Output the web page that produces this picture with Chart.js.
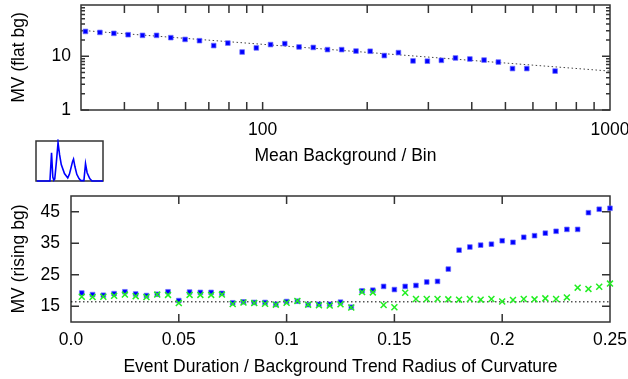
<!DOCTYPE html>
<html>
<head>
<meta charset="utf-8">
<script src="https://cdn.jsdelivr.net/npm/chart.js@4.4.0/dist/chart.umd.min.js"></script>
<style>
  html, body { margin: 0; padding: 0; background: #fff; }
  #wrap { position: relative; width: 628px; height: 379px; overflow: hidden; }
  .box { position: absolute; }
</style>
</head>
<body>
<div id="wrap">
  <div class="box" style="left:0;top:0;width:628px;height:167px"><canvas id="flat"></canvas></div>
  <div class="box" style="left:0;top:182px;width:628px;height:197px"><canvas id="rising"></canvas></div>
  <div class="box" style="left:34px;top:139px;width:71px;height:44px;z-index:2"><canvas id="inset"></canvas></div>
</div>
<script>
// top panel: MV vs mean background (log-log)
const meanBg = [30.9, 34.0, 37.3, 41.0, 45.1, 49.5, 54.4, 59.8, 65.8, 72.3, 79.4, 87.3, 95.9, 105.4, 115.8, 127.3, 139.9,
                153.7, 168.9, 185.7, 204, 224, 246, 271, 298, 327, 359, 395, 434, 477, 524, 576, 633, 695];
const mvFlat = [29.0, 27.8, 26.7, 25.2, 24.5, 24.5, 22.2, 20.6, 19.5, 15.8, 17.6, 12.0, 14.3, 16.5, 17.2, 14.9, 14.6,
                13.3, 13.3, 12.5, 12.4, 10.3, 11.7, 8.2, 8.1, 8.4, 9.3, 8.9, 8.5, 7.8, 5.9, 5.9, null, 5.3];
const fitX = [30, 1000];
const fitY = [30.4, 5.3];

const flatXTicks = [100, 1000];
const flatXLabels = ['100', '1000'];
const flatYTicks = [1, 10];
const flatYLabels = ['1', '10'];
const flatXMarks = [40, 50, 60, 70, 80, 90, 100, 200, 300, 400, 500, 600, 700, 800, 900];
const flatYMajor = [1, 10];
const flatYMinor = [2, 3, 4, 5, 6, 7, 8, 9, 20, 30, 40, 50, 60, 70, 80];

// bottom panel: MV vs event duration / radius of curvature
const duration = [0.005, 0.01, 0.015, 0.02, 0.025, 0.03, 0.035, 0.04, 0.045, 0.05,
                  0.055, 0.06, 0.065, 0.07, 0.075, 0.08, 0.085, 0.09, 0.095, 0.1,
                  0.105, 0.11, 0.115, 0.12, 0.125, 0.13, 0.135, 0.14, 0.145, 0.15,
                  0.155, 0.16, 0.165, 0.17, 0.175, 0.18, 0.185, 0.19, 0.195, 0.2,
                  0.205, 0.21, 0.215, 0.22, 0.225, 0.23, 0.235, 0.24, 0.245, 0.25];
const mvBlue = [19.2, 18.7, 18.5, 19.0, 19.6, 18.9, 18.4, 18.8, 19.6, 16.8,
                19.5, 19.4, 19.4, 19.1, 16.1, 16.4, 16.2, 16.2, 15.6, 16.5,
                16.6, 15.5, 15.6, 15.6, 16.3, 14.7, 19.9, 20.1, 21.3, 20.3,
                21.3, 21.6, 22.7, 22.9, 26.8, 32.8, 33.8, 34.4, 34.7, 35.8,
                35.3, 36.9, 37.4, 38.2, 38.8, 39.4, 39.4, 44.7, 45.8, 46.1];
const mvGreen = [18.0, 17.9, 18.0, 18.3, 18.7, 18.2, 17.9, 18.7, 18.6, 16.0,
                 18.6, 18.6, 18.6, 18.7, 15.7, 16.2, 16.0, 15.8, 15.5, 16.1,
                 16.7, 15.5, 15.3, 15.2, 15.6, 14.6, 19.5, 19.4, 15.4, 14.7,
                 19.3, 17.3, 17.3, 17.3, 17.2, 17.1, 17.3, 17.1, 17.3, 16.5,
                 17.0, 17.3, 17.2, 17.5, 17.3, 17.8, 20.9, 20.5, 21.2, 22.2];
const refX = [0, 0.25];
const refY = [16.4, 16.4];

const risingXTicks = [0, 0.05, 0.1, 0.15, 0.2, 0.25];
const risingXLabels = ['0.0', '0.05', '0.1', '0.15', '0.2', '0.25'];
const risingYTicks = [15, 25, 35, 45];
const risingXMarks = [0.05, 0.1, 0.15, 0.2];

// inset thumbnail light curve
const insetX = [1, 20.8, 23.2, 25.1, 26.6, 28, 30.5, 32.9, 35.2, 37.7, 42.5, 47.4, 49.8, 52.2, 54.6, 56, 58, 60.9,
                64.2, 67, 71.5, 73.9, 76.3, 80.2, 83.6, 100];
const insetY = [0, 0, 0.72, 0.1, 0.02, 0.05, 0.5, 0.975, 0.67, 0.42, 0.19, 0.08, 0.17, 0.33, 0.5, 0.56, 0.375, 0.17,
                0.06, 0.01, 0.01, 0.44, 0.21, 0.06, 0, 0];

const pts = (xs, ys) => xs.map((x, i) => ({x: x, y: ys[i]}));

Chart.defaults.font.family = '"Liberation Sans", Arial, sans-serif';
Chart.defaults.font.size = 17.5;
Chart.defaults.color = '#000';

// fixed axis box size, no extra padding for overhanging labels
const fixX = h => s => { s.height = h; s.paddingLeft = 0; s.paddingRight = 0; };
const fixY = w => s => { s.width = w; s.paddingTop = 0; s.paddingBottom = 0; };

// frame + inward tick marks, drawn from the chart's scales
const boxTicks = {
  id: 'boxTicks',
  beforeDatasetsDraw(chart, args, opts) {
    const {ctx, chartArea: a, scales} = chart;
    ctx.save();
    ctx.strokeStyle = '#333';
    ctx.lineWidth = 1.5;
    ctx.beginPath();
    (opts.x || []).forEach(m => m.values.forEach(v => {
      const p = scales.x.getPixelForValue(v);
      ctx.moveTo(p, a.bottom); ctx.lineTo(p, a.bottom - m.len);
      ctx.moveTo(p, a.top); ctx.lineTo(p, a.top + m.len);
    }));
    (opts.y || []).forEach(m => m.values.forEach(v => {
      const p = scales.y.getPixelForValue(v);
      ctx.moveTo(a.left, p); ctx.lineTo(a.left + m.len, p);
      ctx.moveTo(a.right, p); ctx.lineTo(a.right - m.len, p);
    }));
    ctx.stroke();
    ctx.strokeRect(a.left, a.top, a.right - a.left, a.bottom - a.top);
    ctx.restore();
  }
};

const blueSquares = {
  pointStyle: 'rect', pointRadius: 3.3, pointHoverRadius: 3.3,
  backgroundColor: '#0000ff', borderColor: 'rgba(110,110,255,0.7)', borderWidth: 1, clip: false
};

new Chart(document.getElementById('flat'), {
  type: 'scatter',
  data: {
    datasets: [
      Object.assign({data: pts(meanBg, mvFlat), order: 1}, blueSquares),
      {data: pts(fitX, fitY), showLine: true, pointRadius: 0, borderColor: '#444', borderWidth: 1,
       borderDash: [1.5, 2.5], order: 2}
    ]
  },
  options: {
    responsive: true, maintainAspectRatio: false, animation: false,
    layout: {padding: {top: 5, right: 18, left: 0, bottom: 0}},
    plugins: {
      legend: {display: false}, tooltip: {enabled: false},
      boxTicks: {
        x: [{values: flatXMarks, len: 8}],
        y: [{values: flatYMajor, len: 8}, {values: flatYMinor, len: 4}]
      }
    },
    scales: {
      x: {
        type: 'logarithmic', min: 30, max: 1000,
        grid: {display: false, drawTicks: false}, border: {display: false},
        afterBuildTicks: s => { s.ticks = flatXTicks.map(v => ({value: v})); },
        afterFit: fixX(57),
        ticks: {padding: 10, autoSkip: false, maxRotation: 0, callback: (v, i) => flatXLabels[i]},
        title: {display: true, text: 'Mean Background / Bin', padding: {top: 0, bottom: 0.5}}
      },
      y: {
        type: 'logarithmic', min: 1, max: 90,
        grid: {display: false, drawTicks: false}, border: {display: false},
        afterBuildTicks: s => { s.ticks = flatYTicks.map(v => ({value: v})); },
        afterFit: fixY(81),
        ticks: {padding: 10, autoSkip: false, callback: (v, i) => flatYLabels[i]},
        title: {display: true, text: 'MV (flat bg)', padding: {top: 9, bottom: 0}}
      }
    }
  },
  plugins: [boxTicks]
});

new Chart(document.getElementById('rising'), {
  type: 'scatter',
  data: {
    datasets: [
      {data: pts(duration, mvGreen), pointStyle: 'crossRot', pointRadius: 4.2, pointHoverRadius: 4.2,
       borderColor: '#22ee22', borderWidth: 1.5, clip: false, order: 1},
      Object.assign({data: pts(duration, mvBlue), order: 2}, blueSquares),
      {data: pts(refX, refY), showLine: true, pointRadius: 0, borderColor: '#000', borderWidth: 1,
       borderDash: [1.5, 2.5], order: 3}
    ]
  },
  options: {
    responsive: true, maintainAspectRatio: false, animation: false,
    layout: {padding: {top: 14, right: 18, left: 0, bottom: 0}},
    plugins: {
      legend: {display: false}, tooltip: {enabled: false},
      boxTicks: {
        x: [{values: risingXMarks, len: 8}],
        y: [{values: risingYTicks, len: 8}]
      }
    },
    scales: {
      x: {
        type: 'linear', min: 0, max: 0.25,
        grid: {display: false, drawTicks: false}, border: {display: false},
        afterBuildTicks: s => { s.ticks = risingXTicks.map(v => ({value: v})); },
        afterFit: fixX(57),
        ticks: {padding: 7.5, autoSkip: false, maxRotation: 0, callback: (v, i) => risingXLabels[i]},
        title: {display: true, text: 'Event Duration / Background Trend Radius of Curvature', padding: {top: 0, bottom: 1.8}}
      },
      y: {
        type: 'linear', min: 10, max: 50,
        grid: {display: false, drawTicks: false}, border: {display: false},
        afterBuildTicks: s => { s.ticks = risingYTicks.map(v => ({value: v})); },
        afterFit: fixY(71),
        ticks: {padding: 11, autoSkip: false},
        title: {display: true, text: 'MV (rising bg)', padding: {top: 9, bottom: 0}}
      }
    }
  },
  plugins: [boxTicks]
});

new Chart(document.getElementById('inset'), {
  type: 'scatter',
  data: {
    datasets: [{data: pts(insetX, insetY), showLine: true, pointRadius: 0, borderColor: '#0000ff',
                borderWidth: 1.6, clip: false}]
  },
  options: {
    responsive: true, maintainAspectRatio: false, animation: false,
    layout: {padding: 2},
    plugins: {legend: {display: false}, tooltip: {enabled: false}, boxTicks: {}},
    scales: {
      x: {type: 'linear', min: 0, max: 100, display: false},
      y: {type: 'linear', min: 0, max: 1.02, display: false}
    }
  },
  plugins: [boxTicks]
});
</script>
</body>
</html>
